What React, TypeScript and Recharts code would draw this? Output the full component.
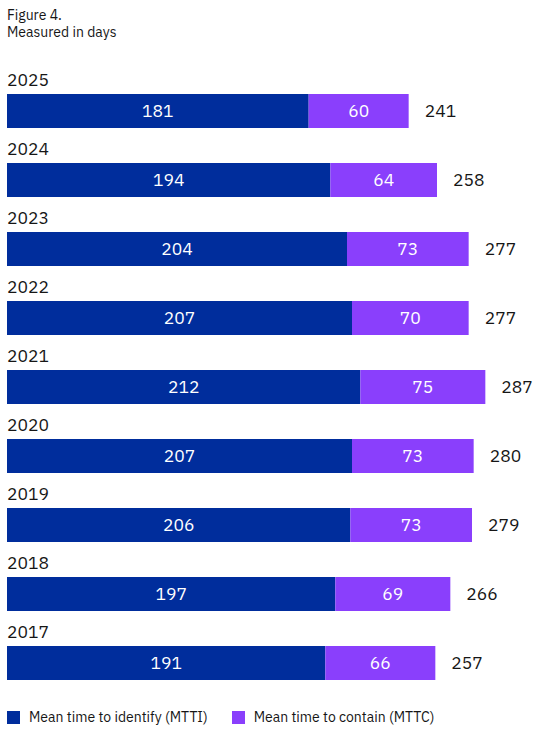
import React from "react";
import { BarChart, Bar, XAxis, YAxis, LabelList } from "recharts";

const years = ["2025", "2024", "2023", "2022", "2021", "2020", "2019", "2018", "2017"];
const mtti = [181, 194, 204, 207, 212, 207, 206, 197, 191];
const mttc = [60, 64, 73, 70, 75, 73, 73, 69, 66];
const totals = [241, 258, 277, 277, 287, 280, 279, 266, 257];

const DARK = "#002d9c";
const PURPLE = "#8a3ffc";
const FONT = "'IBM Plex Sans', 'Noto Sans', sans-serif";

const data = years.map((y, i) => ({ year: y, mtti: mtti[i], mttc: mttc[i], total: totals[i] }));

const YearLabel = (props: any) => {
  const { x, y, value } = props;
  return (
    <text x={x} y={y - 8.5} fontSize={17.5} fill="#161616" fontFamily={FONT} textAnchor="start">
      {value}
    </text>
  );
};

export default function App() {
  return (
    <div style={{ position: "absolute", left: 0, top: 0, width: 555, height: 733, background: "#fff", fontFamily: FONT }}>
      <div style={{ position: "absolute", left: 7, top: 7, fontSize: 14, lineHeight: "17px", color: "#161616" }}>
        <div>Figure 4.</div>
        <div>Measured in days</div>
      </div>
      <BarChart
        width={555}
        height={733}
        data={data}
        layout="vertical"
        margin={{ top: 76, right: 48, bottom: 36, left: 7 }}
        barCategoryGap={35}
      >
        <XAxis type="number" domain={[0, 300]} hide />
        <YAxis type="category" dataKey="year" hide />
        <Bar dataKey="mtti" stackId="a" fill={DARK} barSize={34} isAnimationActive={false}>
          <LabelList dataKey="mtti" position="center" fill="#ffffff" fontSize={17.5} fontFamily={FONT} />
          <LabelList dataKey="year" content={<YearLabel />} />
        </Bar>
        <Bar dataKey="mttc" stackId="a" fill={PURPLE} barSize={34} isAnimationActive={false}>
          <LabelList dataKey="mttc" position="center" fill="#ffffff" fontSize={17.5} fontFamily={FONT} />
          <LabelList dataKey="total" position="right" offset={16} fill="#161616" fontSize={17.5} fontFamily={FONT} />
        </Bar>
      </BarChart>
      <div style={{ position: "absolute", left: 7, top: 708, display: "flex", alignItems: "center", fontSize: 14, color: "#161616" }}>
        <span style={{ display: "inline-block", width: 13, height: 13, background: DARK, marginRight: 9 }} />
        <span style={{ marginRight: 24 }}>Mean time to identify (MTTI)</span>
        <span style={{ display: "inline-block", width: 13, height: 13, background: PURPLE, marginRight: 9 }} />
        <span>Mean time to contain (MTTC)</span>
      </div>
    </div>
  );
}
